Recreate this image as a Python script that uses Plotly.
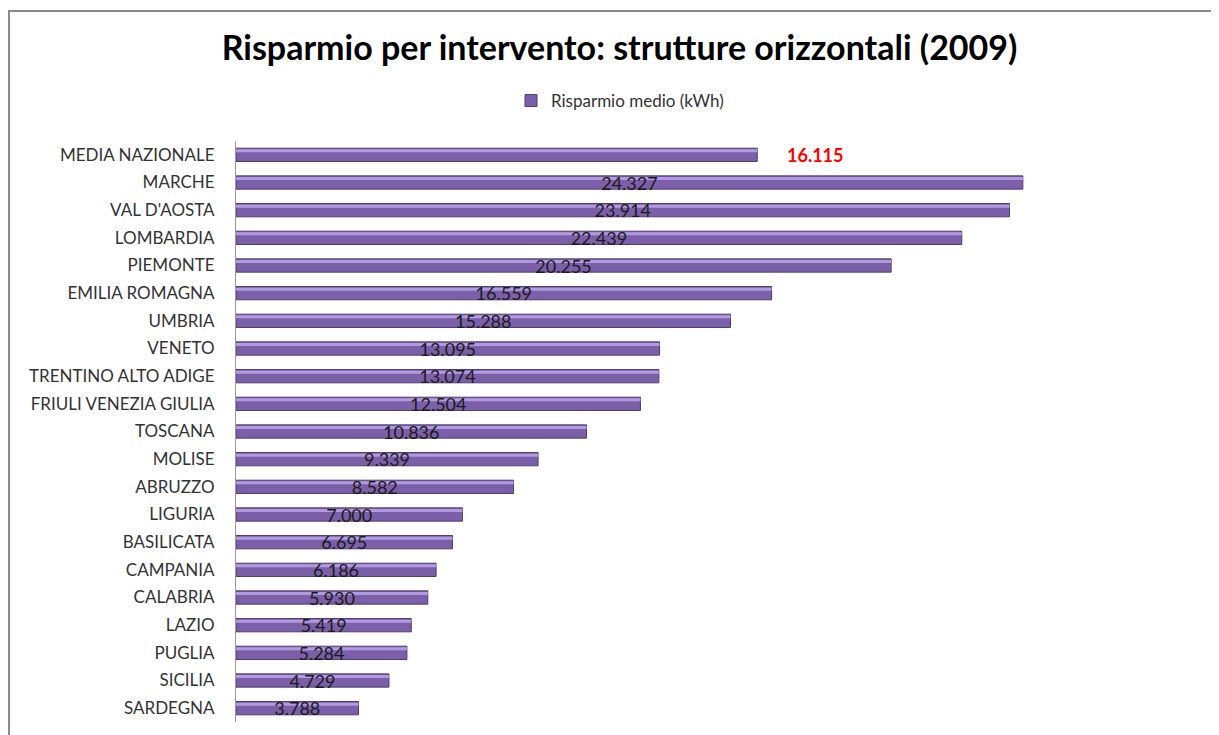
import plotly.graph_objects as go

# dati: risparmio medio per regione (kWh), 2009
regioni = ["MEDIA NAZIONALE", "MARCHE", "VAL D'AOSTA", "LOMBARDIA", "PIEMONTE",
           "EMILIA ROMAGNA", "UMBRIA", "VENETO", "TRENTINO ALTO ADIGE",
           "FRIULI VENEZIA GIULIA", "TOSCANA", "MOLISE", "ABRUZZO", "LIGURIA",
           "BASILICATA", "CAMPANIA", "CALABRIA", "LAZIO", "PUGLIA", "SICILIA",
           "SARDEGNA"]
risparmio = [16115, 24327, 23914, 22439, 20255, 16559, 15288, 13095, 13074,
             12504, 10836, 9339, 8582, 7000, 6695, 6186, 5930, 5419, 5284,
             4729, 3788]


def fmt_it(v):
    return f"{v:,}".replace(",", ".")


testi = [""] + [fmt_it(v) for v in risparmio[1:]]

FONT = "Lato, Open Sans, sans-serif"
# la pagina ha 8px di margine del body
W, H = 1211, 727
L, R, T, B = 228, 45, 133, 13
pw = W - L - R
ph = H - T - B

fig = go.Figure()
fig.add_trace(go.Bar(
    x=risparmio, y=regioni, orientation="h",
    name="Risparmio medio (kWh)",
    marker=dict(color="#7b5fa9", line=dict(color="#4f3d70", width=1)),
    width=0.48, offset=-0.24,
    showlegend=True,
))
# riflesso chiaro sulla parte alta delle barre
fig.add_trace(go.Bar(
    x=risparmio, y=regioni, orientation="h",
    marker=dict(color="#b09be0", line=dict(width=0)),
    width=0.11, offset=-0.2,
    showlegend=False, hoverinfo="skip",
))
# etichette dei valori (barra trasparente sopra)
fig.add_trace(go.Bar(
    x=risparmio, y=regioni, orientation="h",
    marker=dict(color="rgba(0,0,0,0)", line=dict(width=0)),
    width=0.48, offset=-0.24,
    text=testi, textposition="inside", insidetextanchor="middle",
    constraintext="none",
    textfont=dict(family=FONT, size=18, color="#1a1a1a"),
    showlegend=False, hoverinfo="skip",
))

# etichetta media nazionale in rosso
fig.add_annotation(x=risparmio[0], y=regioni[0], text="<b>" + fmt_it(risparmio[0]) + "</b>",
                   showarrow=False, xanchor="left", xshift=28,
                   font=dict(family=FONT, size=18, color="#ff0000"))

# cornice del grafico
fig.add_shape(type="rect", xref="paper", yref="paper",
              x0=(1 - L) / pw, x1=(1209 - L) / pw,
              y0=-0.05, y1=(H - B - 3) / ph,
              line=dict(color="#8c8c8c", width=2), fillcolor="rgba(0,0,0,0)", layer="below")

fig.update_layout(
    width=W, height=H,
    margin=dict(l=L, r=R, t=T, b=B),
    paper_bgcolor="white", plot_bgcolor="white",
    separators=",.",
    barmode="overlay",
    title=dict(text="<b>Risparmio per intervento: strutture orizzontali (2009)</b>",
               x=611.5 / W, xref="container", xanchor="center",
               y=1 - 40 / H, yref="container", yanchor="middle",
               font=dict(family=FONT, size=34, color="black")),
    legend=dict(orientation="h", x=612 / W, xref="container", xanchor="center",
                y=1 - 93 / H, yref="container", yanchor="middle",
                font=dict(family=FONT, size=17, color="#333333"),
                itemwidth=30),
)
fig.update_xaxes(range=[0, 29000], visible=False)
fig.update_yaxes(autorange="reversed", showline=True, linecolor="#9a9a9a", linewidth=1,
                 ticks="", ticklabelstandoff=17, showgrid=False,
                 tickfont=dict(family=FONT, size=17, color="#333333"))

fig.write_html("out.html")
